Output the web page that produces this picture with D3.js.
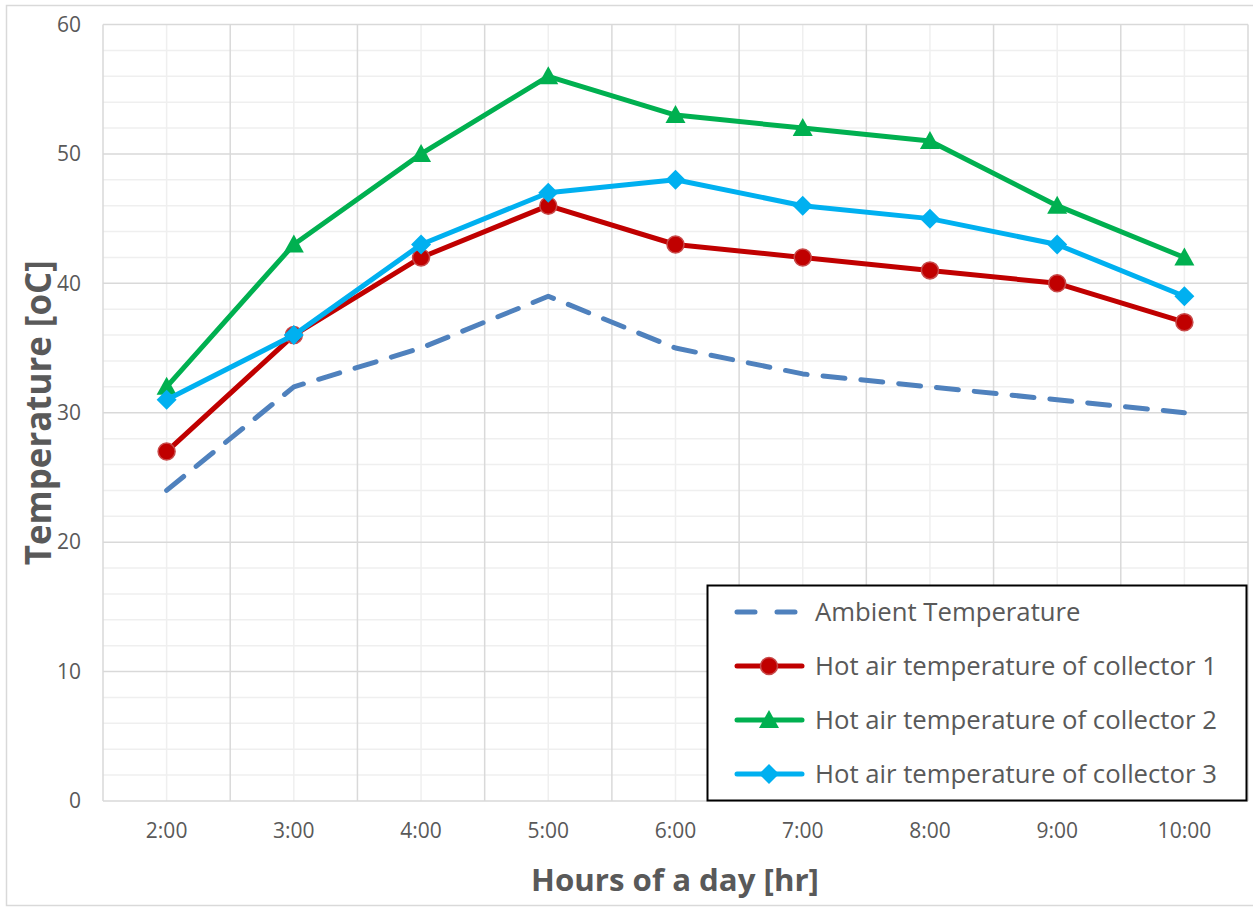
<!DOCTYPE html>
<html>
<head>
<meta charset="utf-8">
<script src="https://cdn.jsdelivr.net/npm/d3@7"></script>
<style>
  html, body { margin: 0; padding: 0; background: #fff; }
  svg { display: block; font-family: "Open Sans", sans-serif; }
</style>
</head>
<body>
<svg id="chart" width="1253" height="907"></svg>
<script>
// Hours of the day on the x axis
const hours = ["2:00", "3:00", "4:00", "5:00", "6:00", "7:00", "8:00", "9:00", "10:00"];
// Temperatures in °C
const ambient = [24, 32, 35, 39, 35, 33, 32, 31, 30];
const collector1 = [27, 36, 42, 46, 43, 42, 41, 40, 37];
const collector2 = [32, 43, 50, 56, 53, 52, 51, 46, 42];
const collector3 = [31, 36, 43, 47, 48, 46, 45, 43, 39];
const yTicks = [0, 10, 20, 30, 40, 50, 60];
const seriesNames = [
  "Ambient Temperature",
  "Hot air temperature of collector 1",
  "Hot air temperature of collector 2",
  "Hot air temperature of collector 3"
];

const series = [
  { name: seriesNames[0], values: ambient, color: "#4F81BD", marker: null, dash: "22 16" },
  { name: seriesNames[1], values: collector1, color: "#C00000", marker: "circle", dash: null },
  { name: seriesNames[2], values: collector2, color: "#00B050", marker: "triangle", dash: null },
  { name: seriesNames[3], values: collector3, color: "#00B0F0", marker: "diamond", dash: null }
];

const svg = d3.select("#chart");
const plot = { left: 103, right: 1248, top: 24.5, bottom: 801 };
const textColor = "#595959";

// Shrink or grow a text element's font so it spans the given width
function fitWidth(sel, width) {
  const node = sel.node();
  const size = parseFloat(sel.attr("font-size"));
  const w = node.getComputedTextLength();
  if (w > 0) sel.attr("font-size", (size * width / w).toFixed(2));
}

// Outer chart border
svg.append("rect")
  .attr("x", 6.5).attr("y", 5.5).attr("width", 1253).attr("height", 900)
  .attr("fill", "#fff").attr("stroke", "#d9d9d9").attr("stroke-width", 1.5);

const x = d3.scaleBand().domain(hours).range([plot.left, plot.right]).padding(0);
const y = d3.scaleLinear().domain([0, 60]).range([plot.bottom, plot.top]);

const grid = svg.append("g");
// Minor horizontal gridlines every 2 °C
d3.range(0, 61, 2).filter(v => v % 10 !== 0).forEach(v => {
  grid.append("line")
    .attr("x1", plot.left).attr("x2", plot.right)
    .attr("y1", y(v)).attr("y2", y(v))
    .attr("stroke", "#efefef").attr("stroke-width", 1.5);
});
// Minor vertical gridlines at category centres
hours.forEach(h => {
  const cx = x(h) + x.bandwidth() / 2;
  grid.append("line")
    .attr("x1", cx).attr("x2", cx)
    .attr("y1", plot.top).attr("y2", plot.bottom)
    .attr("stroke", "#efefef").attr("stroke-width", 1.5);
});
// Major horizontal gridlines
yTicks.forEach(v => {
  grid.append("line")
    .attr("x1", plot.left).attr("x2", plot.right)
    .attr("y1", y(v)).attr("y2", y(v))
    .attr("stroke", "#d9d9d9").attr("stroke-width", 1.5);
});
// Major vertical gridlines at category boundaries
hours.concat([null]).forEach((h, i) => {
  const bx = i < hours.length ? x(h) : plot.right;
  grid.append("line")
    .attr("x1", bx).attr("x2", bx)
    .attr("y1", plot.top).attr("y2", plot.bottom)
    .attr("stroke", "#d9d9d9").attr("stroke-width", 1.5);
});

// Y axis tick labels
const yAxis = d3.axisLeft(y).tickValues(yTicks).tickSize(0).tickPadding(0);
svg.append("g")
  .attr("transform", `translate(${plot.left - 22},0)`)
  .call(yAxis)
  .call(g => g.select(".domain").remove())
  .call(g => g.selectAll("text")
    .attr("fill", textColor).attr("font-size", 21)
    .attr("font-family", "'Open Sans', sans-serif"));

// X axis tick labels
const xAxis = d3.axisBottom(x).tickSize(0).tickPadding(0);
svg.append("g")
  .attr("transform", `translate(0,${plot.bottom + 22})`)
  .call(xAxis)
  .call(g => g.select(".domain").remove())
  .call(g => g.selectAll("text")
    .attr("fill", textColor).attr("font-size", 21)
    .attr("font-family", "'Open Sans', sans-serif"));

// Axis titles
const xTitle = svg.append("text")
  .attr("x", 675).attr("y", 891)
  .attr("text-anchor", "middle")
  .attr("fill", textColor).attr("font-size", 30).attr("font-weight", "bold")
  .text("Hours of a day [hr]");
fitWidth(xTitle, 288);
const yTitle = svg.append("text")
  .attr("transform", `translate(51,${(plot.top + plot.bottom) / 2}) rotate(-90)`)
  .attr("text-anchor", "middle")
  .attr("fill", textColor).attr("font-size", 30).attr("font-weight", "bold")
  .text("Temperature [oC]");
fitWidth(yTitle, 305);

// Marker shapes
function drawMarker(g, type, cx, cy, color) {
  if (type === "circle") {
    g.append("circle").attr("cx", cx).attr("cy", cy).attr("r", 8.5)
      .attr("fill", color).attr("stroke", "#c84a4a").attr("stroke-width", 1.5);
  } else if (type === "triangle") {
    g.append("path")
      .attr("d", `M${cx},${cy - 10}L${cx + 10},${cy + 8}L${cx - 10},${cy + 8}Z`)
      .attr("fill", color);
  } else if (type === "diamond") {
    g.append("path")
      .attr("d", `M${cx},${cy - 10}L${cx + 10},${cy}L${cx},${cy + 10}L${cx - 10},${cy}Z`)
      .attr("fill", color);
  }
}

const line = d3.line()
  .x((d, i) => x(hours[i]) + x.bandwidth() / 2)
  .y(d => y(d));

const linesG = svg.append("g");
series.forEach(s => {
  const path = linesG.append("path")
    .datum(s.values)
    .attr("d", line)
    .attr("fill", "none")
    .attr("stroke", s.color)
    .attr("stroke-width", 5)
    .attr("stroke-linejoin", "round")
    .attr("stroke-linecap", "round");
  if (s.dash) path.attr("stroke-dasharray", s.dash);
  if (s.marker) {
    s.values.forEach((v, i) => {
      drawMarker(linesG, s.marker, x(hours[i]) + x.bandwidth() / 2, y(v), s.color);
    });
  }
});

// Legend
const legend = svg.append("g");
legend.append("rect")
  .attr("x", 707.5).attr("y", 585.5).attr("width", 539).attr("height", 215)
  .attr("fill", "#fff").attr("stroke", "#000").attr("stroke-width", 2);
const legendTexts = [];
series.forEach((s, i) => {
  const ly = 612 + i * 54;
  const l = legend.append("line")
    .attr("x1", 737).attr("x2", 802).attr("y1", ly).attr("y2", ly)
    .attr("stroke", s.color).attr("stroke-width", 5).attr("stroke-linecap", "round");
  if (s.dash) l.attr("stroke-dasharray", "18 22");
  if (s.marker) drawMarker(legend, s.marker, 769, ly, s.color);
  legendTexts.push(legend.append("text")
    .attr("x", 815).attr("y", ly + 8.5)
    .attr("fill", textColor).attr("font-size", 23)
    .text(s.name));
});
// Size all legend labels from the longest entry
const probe = legendTexts[1];
fitWidth(probe, 402);
legendTexts.forEach(t => t.attr("font-size", probe.attr("font-size")));
</script>
</body>
</html>
